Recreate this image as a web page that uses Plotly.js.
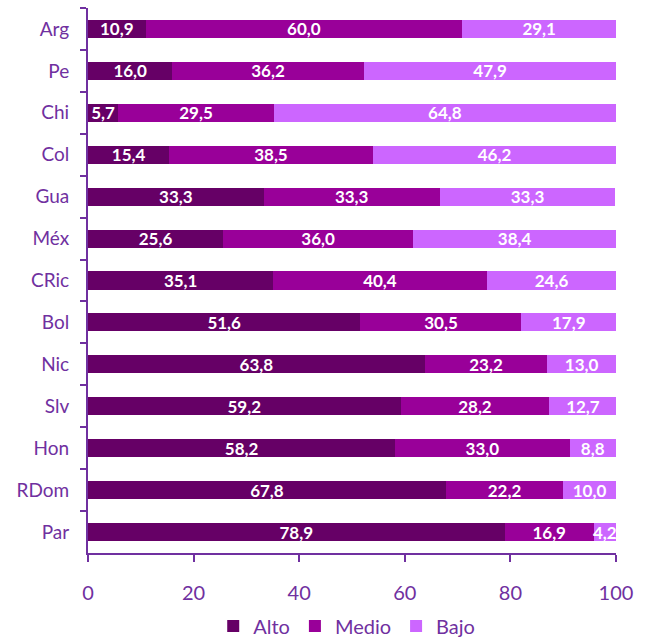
<!DOCTYPE html>
<html>
<head>
<meta charset="utf-8">
<script src="https://cdn.plot.ly/plotly-3.0.1.min.js"></script>
<style>html,body{margin:0;padding:0;background:#fff;}#chart{width:646px;height:642px;}</style>
</head>
<body>
<div id="chart"></div>
<script>
const categories = ["Arg", "Pe", "Chi", "Col", "Gua", "Méx", "CRic", "Bol", "Nic", "Slv", "Hon", "RDom", "Par"];
const alto  = [10.9, 16.0, 5.7, 15.4, 33.3, 25.6, 35.1, 51.6, 63.8, 59.2, 58.2, 67.8, 78.9];
const medio = [60.0, 36.2, 29.5, 38.5, 33.3, 36.0, 40.4, 30.5, 23.2, 28.2, 33.0, 22.2, 16.9];
const bajo  = [29.1, 47.9, 64.8, 46.2, 33.3, 38.4, 24.6, 17.9, 13.0, 12.7, 8.8, 10.0, 4.2];
const seriesNames = ["Alto", "Medio", "Bajo"];
const xTicks = [0, 20, 40, 60, 80, 100];

const colors = ["#660066", "#990099", "#CC66FF"];
const purple = "#7030A0";
const font = "Lato, 'Open Sans', sans-serif";

const data = [alto, medio, bajo].map((vals, i) => ({
  type: "bar",
  orientation: "h",
  name: seriesNames[i],
  y: categories,
  x: vals,
  marker: {color: colors[i], line: {width: 0}},
  text: vals,
  texttemplate: "%{x:.1f}",
  textposition: "inside",
  insidetextanchor: "middle",
  textangle: 0,
  textfont: {color: "#ffffff", size: 17, family: font, weight: "bold"},
  hoverinfo: "none",
  width: 0.43
}));

const layout = {
  width: 646,
  height: 642,
  margin: {l: 88, r: 30, t: 8, b: 89, autoexpand: false},
  barmode: "stack",
  separators: ",.",
  paper_bgcolor: "#ffffff",
  plot_bgcolor: "#ffffff",
  font: {family: font, color: purple},
  uniformtext: {mode: "show", minsize: 17},
  showlegend: true,
  legend: {
    orientation: "h",
    x: 0.49, xanchor: "center",
    y: -0.098, yanchor: "top",
    font: {size: 20, color: purple, family: font},
    itemwidth: 30,
    traceorder: "normal"
  },
  xaxis: {
    range: [0, 100],
    tickvals: xTicks,
    ticktext: xTicks.map(String),
    showgrid: false,
    zeroline: false,
    showline: true,
    linecolor: purple,
    linewidth: 2,
    ticks: "outside",
    ticklen: 7,
    tickwidth: 2,
    tickcolor: purple,
    ticklabelstandoff: 14,
    tickfont: {size: 20, color: purple, family: font},
    fixedrange: true
  },
  yaxis: {
    type: "category",
    autorange: "reversed",
    showgrid: false,
    zeroline: false,
    showline: true,
    linecolor: purple,
    linewidth: 2,
    ticks: "outside",
    tickson: "boundaries",
    ticklen: 6,
    tickwidth: 2,
    tickcolor: purple,
    ticklabelstandoff: 13,
    tickfont: {size: 19, color: purple, family: font},
    fixedrange: true
  }
};

Plotly.newPlot("chart", data, layout, {displayModeBar: false, staticPlot: true});
</script>
</body>
</html>
